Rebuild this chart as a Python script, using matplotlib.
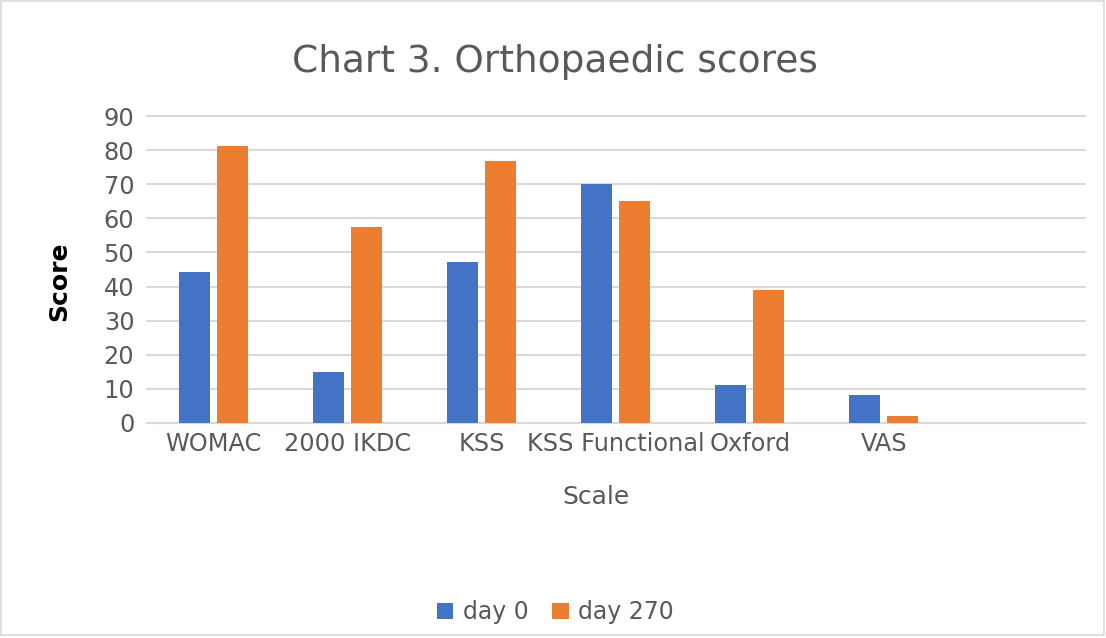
import matplotlib.pyplot as plt
import numpy as np
from matplotlib.patches import Rectangle

categories = ['WOMAC', '2000 IKDC', 'KSS', 'KSS Functional', 'Oxford', 'VAS', '']
day0 = [44.3, 15.0, 47.2, 70.1, 11.1, 8.2, None]
day270 = [81.3, 57.5, 76.9, 65.1, 39.0, 2.0, None]
yticks = [0, 10, 20, 30, 40, 50, 60, 70, 80, 90]

blue = '#4472C4'
orange = '#ED7D31'
grey = '#595959'

fig = plt.figure(figsize=(11.06, 6.38), dpi=100)
ax = fig.add_axes([0.1327, 0.3375, 0.8483, 0.4802])

x = np.arange(len(categories))
w = 0.231
off = 0.142
v0 = [np.nan if v is None else v for v in day0]
v1 = [np.nan if v is None else v for v in day270]
ax.bar(x - off, v0, w, color=blue, label='day 0', zorder=3)
ax.bar(x + off, v1, w, color=orange, label='day 270', zorder=3)

ax.set_xlim(-0.5, len(categories) - 0.5)
ax.set_ylim(0, 90)
ax.set_yticks(yticks)
ax.set_xticks(x)
ax.set_xticklabels(categories)
ax.yaxis.grid(True, color='#d9d9d9', linewidth=1.5, zorder=0)
for gl in ax.get_ygridlines():
    gl.set_clip_on(False)
ax.tick_params(length=0, labelsize=17.3, labelcolor=grey)
ax.tick_params(axis='x', pad=7)
ax.tick_params(axis='y', pad=9)
for s in ['top', 'right', 'left']:
    ax.spines[s].set_visible(False)
ax.spines['bottom'].set_color('#d9d9d9')
ax.spines['bottom'].set_linewidth(1.5)

ax.set_xlabel('Scale', fontsize=18, color=grey)
ax.xaxis.set_label_coords(0.479, -0.205)
ax.set_ylabel('Score', fontsize=18, fontweight='bold', color='black')
ax.yaxis.set_label_coords(-0.08, 0.462)

fig.text(0.502, 0.903, 'Chart 3. Orthopaedic scores', fontsize=27, color=grey,
         ha='center', va='center')

fig.legend(loc='center', bbox_to_anchor=(0.502, 0.04), ncol=2, frameon=False,
           fontsize=17, labelcolor=grey, handlelength=0.7, handleheight=0.7,
           handletextpad=0.4, columnspacing=1.0)

fig.patches.append(Rectangle((0.001, 0.004), 0.997, 0.994, transform=fig.transFigure,
                             fill=False, edgecolor='#d9d9d9', linewidth=1.2))

fig.savefig('out.png', dpi=100)
